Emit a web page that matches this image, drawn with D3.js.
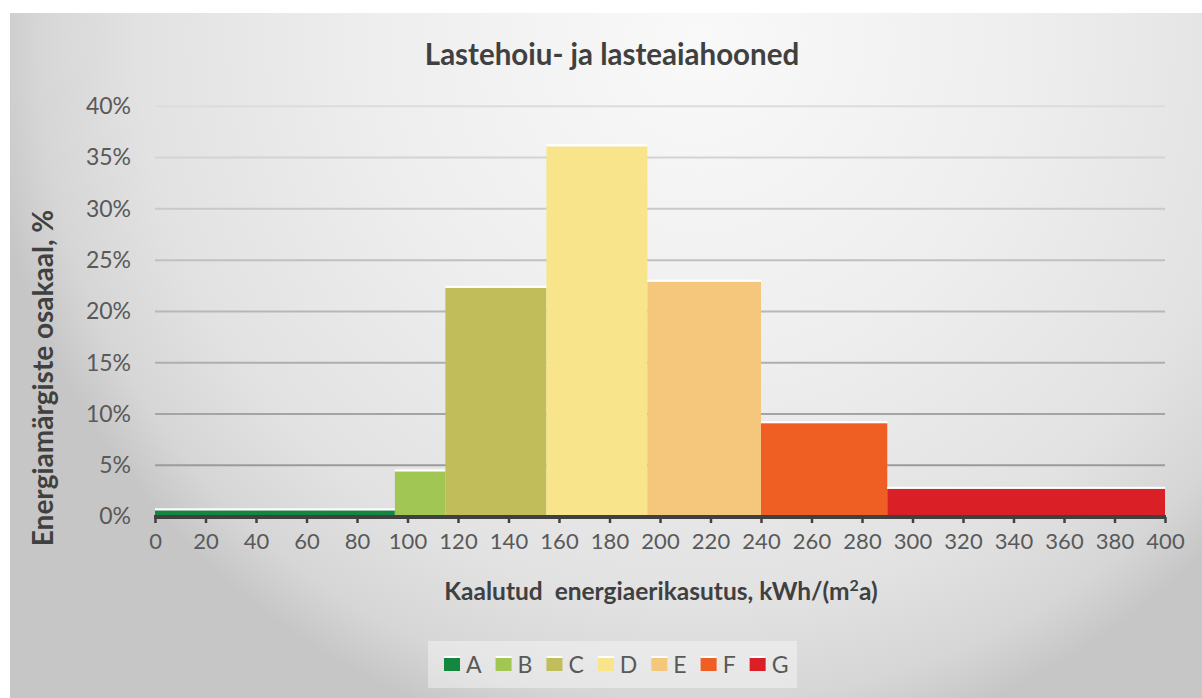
<!DOCTYPE html>
<html>
<head>
<meta charset="utf-8">
<script src="https://cdn.jsdelivr.net/npm/d3@7"></script>
<style>
  html, body { margin: 0; padding: 0; background: #ffffff; }
  svg { display: block; font-family: Lato, "Open Sans", sans-serif; }
</style>
</head>
<body>
<svg id="chart" width="1202" height="698"></svg>
<script>
// Energy classes and their consumption bins (kWh/(m²a))
const classes   = ["A", "B", "C", "D", "E", "F", "G"];
const binStart  = [0, 95, 115, 155, 195, 240, 290];
const binEnd    = [95, 115, 155, 195, 240, 290, 400];
// Share of energy certificates per class, %
const shares    = [0.6, 4.4, 22.3, 36.1, 22.9, 9.1, 2.7];
const classColors = ["#13873f", "#a2c654", "#c1bd5b", "#f8e58b", "#f5c77d", "#ef5e22", "#da1f27"];

const xTickValues = [0, 20, 40, 60, 80, 100, 120, 140, 160, 180, 200, 220, 240, 260, 280, 300, 320, 340, 360, 380, 400];
const yTickValues = [0, 5, 10, 15, 20, 25, 30, 35, 40];

const titleText = "Lastehoiu- ja lasteaiahooned";
const yTitle = "Energiamärgiste osakaal, %";

const svg = d3.select("#chart");
const defs = svg.append("defs");

// soft radial background of the chart area
const bg = defs.append("radialGradient")
  .attr("id", "bgGrad")
  .attr("gradientUnits", "userSpaceOnUse")
  .attr("cx", 0).attr("cy", 0).attr("r", 1)
  .attr("gradientTransform", "translate(700,40) scale(720,720)");
[[0, "#f9f9f9"], [0.45, "#eeeeee"], [0.78, "#e2e2e2"], [0.92, "#d6d6d6"], [1, "#c6c6c6"]]
  .forEach(([o, c]) => bg.append("stop").attr("offset", o).attr("stop-color", c));

svg.append("rect")
  .attr("x", 10).attr("y", 13)
  .attr("width", 1192).attr("height", 685)
  .attr("fill", "url(#bgGrad)");

const x = d3.scaleLinear().domain([0, 400]).range([155, 1165]);
const y = d3.scaleLinear().domain([0, 40]).range([516.5, 106.3]);

// gridlines, lighter towards the top
const gridColor = d3.scaleLinear().domain([5, 40]).range(["#9b9b9b", "#dcdcdc"]);
svg.append("g").selectAll("line")
  .data(yTickValues.filter(v => v > 0))
  .join("line")
  .attr("x1", x(0)).attr("x2", x(400))
  .attr("y1", d => y(d)).attr("y2", d => y(d))
  .attr("stroke", d => gridColor(d))
  .attr("stroke-width", 2);

// histogram bars
const bars = svg.append("g");
classes.forEach((c, i) => {
  const x0 = x(binStart[i]), x1 = x(binEnd[i]);
  bars.append("rect")
    .attr("x", x0).attr("y", y(shares[i]))
    .attr("width", x1 - x0).attr("height", y(0) - y(shares[i]))
    .attr("fill", classColors[i]);
  bars.append("rect")
    .attr("x", x0).attr("y", y(shares[i]) - 2)
    .attr("width", x1 - x0).attr("height", 2)
    .attr("fill", "#ffffff");
});

// x axis
const xAxis = d3.axisBottom(x)
  .tickValues(xTickValues)
  .tickSize(6)
  .tickPadding(10)
  .tickFormat(d3.format("d"));
const gx = svg.append("g").attr("transform", "translate(0,517)").call(xAxis);
gx.select(".domain").attr("stroke", "#404040").attr("stroke-width", 4).attr("d", `M${x(0) - 1},0H${x(400) + 1}`);
gx.selectAll(".tick line").attr("stroke", "#404040").attr("stroke-width", 2.5);
gx.selectAll(".tick text")
  .attr("fill", "#595959")
  .style("font-size", "22px")
  .style("font-family", "Lato, sans-serif");

// y axis labels
const yAxis = d3.axisLeft(y)
  .tickValues(yTickValues)
  .tickSize(0)
  .tickPadding(0)
  .tickFormat(d => d + "%");
const gy = svg.append("g").attr("transform", "translate(131,0)").call(yAxis);
gy.select(".domain").remove();
gy.selectAll(".tick text")
  .attr("fill", "#595959")
  .style("font-size", "23px")
  .style("font-family", "Lato, sans-serif");

// titles
svg.append("text")
  .attr("x", 612).attr("y", 65)
  .attr("text-anchor", "middle")
  .attr("fill", "#404040")
  .style("font-size", "29.5px").style("font-weight", "bold")
  .text(titleText);

svg.append("text")
  .attr("transform", "translate(53,378) rotate(-90)")
  .attr("text-anchor", "middle")
  .attr("fill", "#404040")
  .style("font-size", "28px").style("font-weight", "bold")
  .text(yTitle);

const xt = svg.append("text")
  .attr("x", 661).attr("y", 600)
  .attr("text-anchor", "middle")
  .attr("fill", "#404040")
  .style("font-size", "24.5px").style("font-weight", "bold")
  .attr("xml:space", "preserve");
xt.append("tspan").text("Kaalutud  energiaerikasutus, kWh/(m");
xt.append("tspan").attr("dy", -9).style("font-size", "16px").text("2");
xt.append("tspan").attr("dy", 9).text("a)");

// legend
const legend = svg.append("g");
legend.append("rect")
  .attr("x", 428).attr("y", 641)
  .attr("width", 369).attr("height", 47)
  .attr("fill", "#ffffff").attr("fill-opacity", 0.38);

let lx = 444;
classes.forEach((c, i) => {
  const item = legend.append("g");
  item.append("rect")
    .attr("x", lx).attr("y", 657)
    .attr("width", 16).attr("height", 14)
    .attr("fill", classColors[i]);
  item.append("rect")
    .attr("x", lx).attr("y", 656)
    .attr("width", 16).attr("height", 2)
    .attr("fill", "#ffffff");
  const t = item.append("text")
    .attr("x", lx + 22).attr("y", 673)
    .attr("fill", "#595959")
    .style("font-size", "23px")
    .text(c);
  lx += 22 + t.node().getComputedTextLength() + 14;
});
</script>
</body>
</html>
